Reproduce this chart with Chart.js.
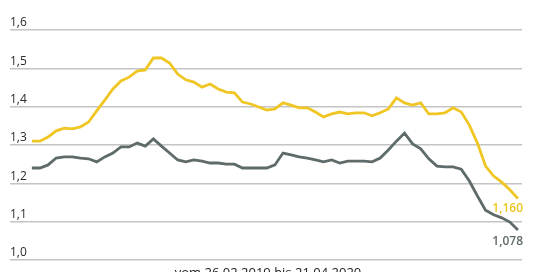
<!DOCTYPE html>
<html>
<head>
<meta charset="utf-8">
<script src="https://cdn.jsdelivr.net/npm/chart.js@4.4.1/dist/chart.umd.min.js"></script>
<style>
  html, body { margin: 0; padding: 0; background: #fff; overflow: hidden; }
  #wrap { width: 540px; height: 272px; }
</style>
</head>
<body>
<div id="wrap"><canvas id="chart"></canvas></div>
<script>
// --- DATA (weekly prices, 26.02.2019 - 21.04.2020) ---
const periodText = 'vom 26.02.2019 bis 21.04.2020';
const yTicks = [1.0, 1.1, 1.2, 1.3, 1.4, 1.5, 1.6];

const yellowValues = [
  1.310, 1.310, 1.321, 1.337, 1.344, 1.342, 1.347, 1.360, 1.389, 1.417,
  1.446, 1.467, 1.477, 1.493, 1.496, 1.527, 1.527, 1.514, 1.485, 1.470,
  1.464, 1.451, 1.459, 1.446, 1.438, 1.436, 1.412, 1.407, 1.399, 1.391,
  1.394, 1.410, 1.404, 1.397, 1.397, 1.386, 1.373, 1.381, 1.386, 1.381,
  1.384, 1.384, 1.376, 1.384, 1.394, 1.423, 1.410, 1.404, 1.410, 1.381,
  1.381, 1.384, 1.397, 1.386, 1.352, 1.305, 1.245, 1.219, 1.203, 1.183,
  1.160
];
const grayValues = [
  1.240, 1.240, 1.248, 1.266, 1.269, 1.269, 1.266, 1.264, 1.256, 1.269,
  1.279, 1.295, 1.295, 1.305, 1.297, 1.316, 1.297, 1.279, 1.261, 1.256,
  1.261, 1.258, 1.253, 1.253, 1.250, 1.250, 1.240, 1.240, 1.240, 1.240,
  1.248, 1.279, 1.274, 1.269, 1.266, 1.261, 1.256, 1.261, 1.253, 1.258,
  1.258, 1.258, 1.256, 1.266, 1.287, 1.310, 1.331, 1.303, 1.290, 1.264,
  1.245, 1.243, 1.243, 1.237, 1.206, 1.167, 1.130, 1.118, 1.110, 1.099,
  1.078
];
const yellowEndLabel = '1,160';
const grayEndLabel = '1,078';

// --- COLORS ---
const yellow = '#efc623';
const gray = '#5f6a6a';

// week dates as labels
const startDate = new Date(2019, 1, 26);
const weekLabels = yellowValues.map((v, i) => {
  const d = new Date(startDate.getTime() + i * 7 * 86400000);
  return d.toLocaleDateString('de-DE');
});

function toPoints(values) {
  return values.map((v, i) => ({ x: i, y: v }));
}

// --- END LABELS + PERIOD TEXT ---
const labelPlugin = {
  id: 'labelPlugin',
  afterDatasetsDraw(chart) {
    const ctx = chart.ctx;
    ctx.save();
    ctx.font = '600 12px "Open Sans"';
    ctx.textAlign = 'right';
    ctx.textBaseline = 'alphabetic';
    [[0, yellowEndLabel, yellow, 13.5], [1, grayEndLabel, gray, 15]].forEach(([idx, text, color, dy]) => {
      const pts = chart.getDatasetMeta(idx).data;
      const last = pts[pts.length - 1];
      ctx.fillStyle = color;
      ctx.fillText(text, chart.chartArea.right + 1, last.y + dy);
    });
    ctx.font = '13px "Open Sans"';
    ctx.textAlign = 'center';
    ctx.fillStyle = '#222';
    ctx.fillText(periodText, 268, 277);
    ctx.restore();
  }
};

new Chart(document.getElementById('chart'), {
  type: 'line',
  data: {
    labels: weekLabels,
    datasets: [
      { data: toPoints(yellowValues), borderColor: yellow, borderWidth: 2.8, pointRadius: 0, tension: 0 },
      { data: toPoints(grayValues), borderColor: gray, borderWidth: 2.8, pointRadius: 0, tension: 0 }
    ]
  },
  options: {
    responsive: true,
    maintainAspectRatio: false,
    animation: false,
    layout: { padding: { left: 10, right: 18, top: 30, bottom: 12 } },
    plugins: { legend: { display: false }, tooltip: { enabled: false } },
    scales: {
      x: {
        type: 'linear',
        min: -2.7,
        max: 60.5,
        display: false
      },
      y: {
        min: 1.0,
        max: 1.6,
        afterBuildTicks: (axis) => { axis.ticks = yTicks.map(v => ({ value: v })); },
        border: { display: false },
        grid: { color: '#c4c4c4', lineWidth: 1.5, drawTicks: false },
        ticks: {
          mirror: true,
          padding: 0,
          labelOffset: -7,
          color: '#2a2a2a',
          font: { family: 'Open Sans', size: 12 },
          callback: (v) => v.toFixed(1).replace('.', ',')
        }
      }
    }
  },
  plugins: [labelPlugin]
});
</script>
</body>
</html>
